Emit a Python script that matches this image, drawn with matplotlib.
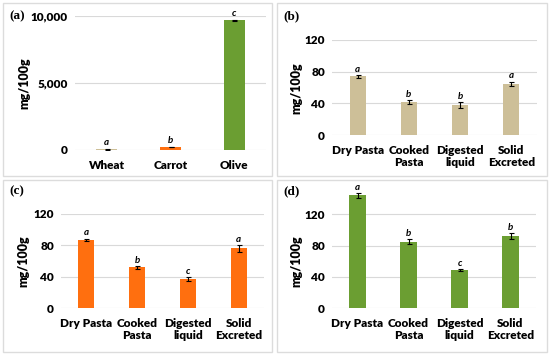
import matplotlib.pyplot as plt
from matplotlib.patches import Rectangle

W, H = 550, 355

# panel (a)
oil_names = ["Wheat", "Carrot", "Olive"]
oil_vals = [50, 230, 9700]
oil_err = [15, 30, 40]
oil_letters = ["a", "b", "c"]
oil_colors = ["#CDBF98", "#FF6F0F", "#6B9E32"]

stages = ["Dry Pasta", "Cooked\nPasta", "Digested\nliquid", "Solid\nExcreted"]

# panel (b)
b_vals = [74, 42, 38, 65]
b_err = [2, 2.5, 4, 2.5]
b_letters = ["a", "b", "b", "a"]

# panel (c)
c_vals = [87, 52, 37, 76]
c_err = [1.5, 2, 2.5, 4.5]
c_letters = ["a", "b", "c", "a"]

# panel (d)
d_vals = [144, 85, 49, 92]
d_err = [3, 3, 1, 4]
d_letters = ["a", "b", "c", "b"]

LBL = "Lato"


def px_axes(fig, x0, x1, ytop, ybot):
    return fig.add_axes([x0 / W, (H - ybot) / H, (x1 - x0) / W, (ybot - ytop) / H])


def panel(ax, names, vals, errs, letters, colors, width, ymax, ticks, fmt, off):
    x = list(range(len(names)))
    ax.bar(x, vals, width=width, color=colors, zorder=2)
    ax.errorbar(x, vals, yerr=errs, fmt="none", ecolor="black", elinewidth=0.8,
                capsize=1.8, capthick=0.8, zorder=3)
    for xi, v, e, l in zip(x, vals, errs, letters):
        ax.text(xi, v + e + off, l, ha="center", va="bottom", fontsize=7,
                fontstyle="italic", fontweight="bold", family=LBL, clip_on=False)
    ax.set_xlim(-0.5, len(names) - 0.5)
    ax.set_ylim(0, ymax)
    ax.set_yticks(ticks)
    ax.set_yticklabels([fmt.format(t) for t in ticks])
    ax.set_xticks(x)
    ax.set_xticklabels(names, linespacing=1.15)
    ax.grid(axis="y", color="#d9d9d9", linewidth=0.8, zorder=0)
    for s in ax.spines.values():
        s.set_visible(False)
    ax.tick_params(length=0)
    ax.tick_params(axis="x", pad=7)
    ax.tick_params(axis="y", pad=5)
    for t in ax.get_xticklabels() + ax.get_yticklabels():
        t.set_fontfamily(LBL)
        t.set_fontweight("heavy")
        t.set_fontsize(8.5)


fig = plt.figure(figsize=(W / 100, H / 100), dpi=100)

# panel frames
for (x0, y0, x1, y1) in [(3, 3, 272, 176), (277, 3, 547, 176),
                         (3, 180, 272, 352), (277, 180, 547, 352)]:
    fig.patches.append(Rectangle((x0 / W, (H - y1) / H), (x1 - x0) / W, (y1 - y0) / H,
                                 transform=fig.transFigure, fill=False,
                                 edgecolor="#dcdcdc", linewidth=1.0))

ax_a = px_axes(fig, 75, 266, 16.3, 150)
panel(ax_a, oil_names, oil_vals, oil_err, oil_letters, oil_colors, 0.33,
      10000, [0, 5000, 10000], "{:,}", 150)

ax_b = px_axes(fig, 332, 537, 40, 135)
panel(ax_b, stages, b_vals, b_err, b_letters, "#CDBF98", 0.31,
      120, [0, 40, 80, 120], "{}", 1.5)

ax_c = px_axes(fig, 61, 264, 213.7, 308.3)
panel(ax_c, stages, c_vals, c_err, c_letters, "#FF6F0F", 0.32,
      120, [0, 40, 80, 120], "{}", 1.5)

ax_d = px_axes(fig, 332, 536, 182.7, 308.3)
panel(ax_d, stages, d_vals, d_err, d_letters, "#6B9E32", 0.32,
      160, [0, 40, 80, 120], "{}", 1.5)

for label, (x, y) in zip(["(a)", "(b)", "(c)", "(d)"],
                         [(9, 16), (283, 16), (9, 191), (283, 191)]):
    fig.text(x / W, (H - y) / H, label, fontsize=9.5, fontweight="bold",
             family="Liberation Serif", va="center", ha="left")

for x, y in [(24, 83), (296, 88), (23, 261), (296, 261)]:
    fig.text(x / W, (H - y) / H, "mg/100g", rotation=90, fontsize=9,
             fontweight="heavy", family=LBL, va="center", ha="center")

fig.savefig("out.png", dpi=100)
